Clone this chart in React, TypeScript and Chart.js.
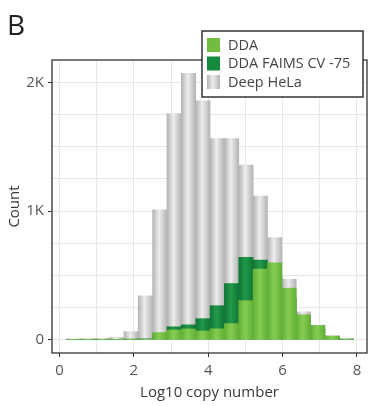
import React, { useEffect, useRef } from 'react';
import { Chart, registerables } from 'chart.js';

Chart.register(...registerables);

// Histogram bin centres (Log10 copy number), 20 equal bins
const binCenters = [
  0.383, 0.769, 1.155, 1.541, 1.927, 2.313, 2.699, 3.085, 3.471, 3.857,
  4.243, 4.629, 5.015, 5.401, 5.787, 6.173, 6.559, 6.945, 7.331, 7.717,
];

// Counts per bin
const dda = [0, 0, 0, 0, 1, 4, 55, 75, 83, 67, 84, 125, 303, 548, 598, 400, 193, 110, 28, 4];
const ddaFaims = [0, 0, 0, 0, 2, 6, 40, 100, 115, 163, 264, 436, 640, 619, 500, 320, 150, 80, 20, 3];
const deepHela = [6, 8, 10, 18, 62, 340, 1010, 1758, 2070, 1856, 1564, 1564, 1358, 1116, 794, 469, 216, 113, 30, 8];

const seriesNames = ['DDA', 'DDA FAIMS CV -75', 'Deep HeLa'];

// axis ticks / grid positions
const xGridValues = [0, 1, 2, 3, 4, 5, 6, 7, 8];
const xLabelled = [0, 2, 4, 6, 8];
const yGridValues = [0, 250, 500, 750, 1000, 1250, 1500, 1750, 2000];
const yTickText: Record<number, string> = { 0: '0', 1000: '1K', 2000: '2K' };

const PALETTE = [
  { edge: '#62b036', mid: '#86cc53', swatch: '#70bd40' },
  { edge: '#0f7535', mid: '#22994a', swatch: '#15893d' },
  { edge: '#b4b4b4', mid: '#ededed', swatch: '#cdcdcd' },
];

const FONT = '"Open Sans", "Noto Sans", sans-serif';

function barFill(edge: string, mid: string) {
  return (ctx: any) => {
    const chart = ctx.chart;
    const xs = chart.scales && chart.scales.x;
    if (!xs || ctx.type !== 'data') return mid;
    const step = binCenters[1] - binCenters[0];
    const half = Math.abs(xs.getPixelForValue(step) - xs.getPixelForValue(0)) / 2;
    const px = xs.getPixelForValue(binCenters[ctx.dataIndex]);
    if (!isFinite(half) || !isFinite(px) || half <= 0) return mid;
    const g = chart.ctx.createLinearGradient(px - half, 0, px + half, 0);
    g.addColorStop(0, edge);
    g.addColorStop(0.45, mid);
    g.addColorStop(1, edge);
    return g;
  };
}

const overlayPlugin = {
  id: 'overlay',
  afterDraw(chart: any) {
    const ctx = chart.ctx as CanvasRenderingContext2D;
    const a = chart.chartArea;
    ctx.save();
    ctx.strokeStyle = '#333333';
    ctx.lineWidth = 1.3;
    ctx.strokeRect(a.left, a.top, a.right - a.left, a.bottom - a.top);

    ctx.fillStyle = '#222222';
    ctx.font = `28px ${FONT}`;
    ctx.textBaseline = 'alphabetic';
    ctx.textAlign = 'left';
    ctx.fillText('B', 7, 35);

    const lx = 202, ly = 31, lw = 161, lh = 66;
    ctx.fillStyle = '#ffffff';
    ctx.fillRect(lx, ly, lw, lh);
    ctx.lineWidth = 1.5;
    ctx.strokeStyle = '#333333';
    ctx.strokeRect(lx, ly, lw, lh);
    ctx.font = `14.5px ${FONT}`;
    ctx.textBaseline = 'middle';
    const rowY = [45, 63.5, 82];
    seriesNames.forEach((name, i) => {
      const p = PALETTE[i];
      const sx = 207, sw = 13, sh = 14;
      const sy = rowY[i] - sh / 2;
      const g = ctx.createLinearGradient(sx, 0, sx + sw, 0);
      g.addColorStop(0, p.edge);
      g.addColorStop(0.45, p.mid);
      g.addColorStop(1, p.edge);
      ctx.fillStyle = i === 2 ? g : p.swatch;
      ctx.fillRect(sx, sy, sw, sh);
      ctx.fillStyle = '#444444';
      ctx.fillText(name, 228, rowY[i] + 0.5);
    });
    ctx.restore();
  },
};

export default function App() {
  const ref = useRef<HTMLCanvasElement | null>(null);

  useEffect(() => {
    if (!ref.current) return;
    const series = [dda, ddaFaims, deepHela];
    const chart = new Chart(ref.current, {
      type: 'bar',
      data: {
        datasets: series.map((vals, i) => ({
          label: seriesNames[i],
          data: vals.map((v, j) => ({ x: binCenters[j], y: v })),
          backgroundColor: barFill(PALETTE[i].edge, PALETTE[i].mid),
          borderWidth: 0,
          grouped: false,
          barPercentage: 1,
          categoryPercentage: 1,
        })) as any,
      },
      options: {
        animation: false,
        responsive: false,
        devicePixelRatio: 1,
        events: [],
        layout: { padding: { top: 60, right: 5, left: 0, bottom: 0 } },
        plugins: {
          legend: { display: false },
          tooltip: { enabled: false },
        },
        scales: {
          x: {
            type: 'linear',
            min: -0.2,
            max: 8.27,
            offset: false,
            afterFit: (s: any) => { s.height = 53; },
            afterBuildTicks: (s: any) => { s.ticks = xGridValues.map((v) => ({ value: v })); },
            border: { display: false },
            grid: {
              offset: false,
              color: '#e7e7e7',
              lineWidth: 1,
              drawTicks: true,
              tickLength: 4,
              tickColor: (c: any) => (xLabelled.includes(c.tick?.value) ? '#333333' : 'rgba(0,0,0,0)'),
            },
            ticks: {
              autoSkip: false,
              maxRotation: 0,
              padding: 5,
              color: '#555555',
              font: { family: FONT, size: 15 },
              callback: (v: any) => (xLabelled.includes(Number(v)) ? String(v) : ''),
            },
            title: {
              display: true,
              text: 'Log10 copy number',
              color: '#3a3a3a',
              font: { family: FONT, size: 15 },
              padding: { top: 0, bottom: 4 },
            },
          },
          y: {
            type: 'linear',
            min: -104,
            max: 2174,
            afterFit: (s: any) => { s.width = 52; },
            afterBuildTicks: (s: any) => { s.ticks = yGridValues.map((v) => ({ value: v })); },
            border: { display: false },
            grid: {
              color: '#e7e7e7',
              lineWidth: 1,
              drawTicks: true,
              tickLength: 4,
              tickColor: (c: any) => (yTickText[c.tick?.value] !== undefined ? '#333333' : 'rgba(0,0,0,0)'),
            },
            ticks: {
              autoSkip: false,
              padding: 4,
              color: '#555555',
              font: { family: FONT, size: 15 },
              callback: (v: any) => yTickText[Number(v)] ?? '',
            },
            title: {
              display: true,
              text: 'Count',
              color: '#3a3a3a',
              font: { family: FONT, size: 15 },
              padding: { top: 6, bottom: 0 },
            },
          },
        },
      },
      plugins: [overlayPlugin],
    });
    return () => chart.destroy();
  }, []);

  return (
    <div style={{ position: 'fixed', left: 0, top: 0, width: 372, height: 406, background: '#ffffff' }}>
      <canvas ref={ref} width={372} height={406} style={{ width: 372, height: 406, display: 'block' }} />
    </div>
  );
}
